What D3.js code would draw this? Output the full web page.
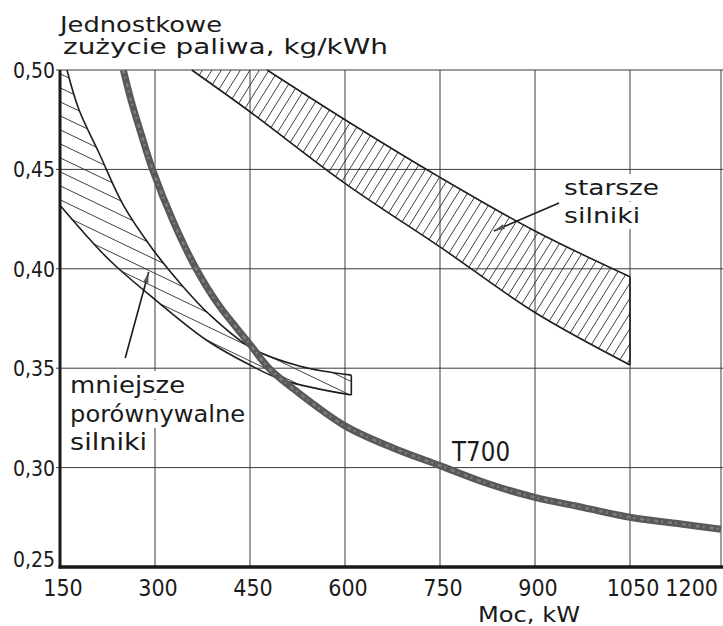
<!DOCTYPE html>
<html lang="pl">
<head>
<meta charset="UTF-8">
<title>Jednostkowe zużycie paliwa</title>
<script src="https://cdn.jsdelivr.net/npm/d3@7"></script>
<style>
  body { margin: 0; background: #fff; }
  svg { display: block; font-family: "DejaVu Sans", sans-serif; }
  .grid line { stroke: #3a3a3a; stroke-width: 1; }
  .hatch line { stroke: #2b2b2b; stroke-width: 0.9; }
  .edge { fill: none; stroke: #1e1e1e; stroke-width: 1.6; }
  .t700 { fill: none; stroke: #595959; stroke-width: 7; stroke-linecap: butt; }
  .t700tex { fill: none; stroke: #8c8c8c; stroke-width: 2.5; stroke-dasharray: 4 3 2 5; opacity: 0.7; }
  .axisline { stroke: #1a1a1a; }
  .tick { font-family: "DejaVu Sans Condensed", "DejaVu Sans", sans-serif; font-stretch: condensed; }
  text { fill: #1a1a1a; }
</style>
</head>
<body>
<svg width="723" height="626"></svg>
<script>
// moc, kW  /  jednostkowe zuzycie paliwa, kg/kWh
const xTicks = [150, 300, 450, 600, 750, 900, 1050, 1200];
const xTickLabels = ["150", "300", "450", "600", "750", "900", "1050", "1200"];
const yTicks = [0.25, 0.30, 0.35, 0.40, 0.45, 0.50];
const yTickLabels = ["0,25", "0,30", "0,35", "0,40", "0,45", "0,50"];

// silnik T700
const t700Power = [250, 262, 278, 296, 330, 365, 400, 450, 480, 525, 600, 675, 750, 825, 900, 975, 1050, 1125, 1200];
const t700Sfc = [0.500, 0.485, 0.468, 0.450, 0.423, 0.400, 0.382, 0.362, 0.350, 0.338, 0.321, 0.310, 0.301, 0.292, 0.285, 0.280, 0.275, 0.272, 0.269];

// mniejsze porownywalne silniki (pasmo)
const smallUpperPower = [161, 180, 212, 250, 296, 339, 386, 453, 529, 610];
const smallUpperSfc = [0.500, 0.480, 0.458, 0.432, 0.410, 0.393, 0.377, 0.360, 0.351, 0.3465];
const smallLowerPower = [150, 228, 301, 381, 450, 502, 610];
const smallLowerSfc = [0.432, 0.4044, 0.3843, 0.3642, 0.3516, 0.344, 0.3365];

// starsze silniki (pasmo)
const oldUpperPower = [477, 600, 750, 900, 1050];
const oldUpperSfc = [0.500, 0.475, 0.446, 0.419, 0.396];
const oldLowerPower = [358, 450, 600, 750, 900, 1050];
const oldLowerSfc = [0.500, 0.479, 0.443, 0.411, 0.378, 0.3516];

const svg = d3.select("svg");

// scan is hand drawn, last column is a bit narrower
const x = d3.scaleLinear().domain([150, 1050, 1200]).range([60, 630, 721]);
const y = d3.scaleLinear().domain([0.25, 0.50]).range([567, 70]);

const pts = (px, py) => px.map((p, i) => [p, py[i]]);
const t700 = pts(t700Power, t700Sfc);
const smallUp = pts(smallUpperPower, smallUpperSfc);
const smallLo = pts(smallLowerPower, smallLowerSfc);
const oldUp = pts(oldUpperPower, oldUpperSfc);
const oldLo = pts(oldLowerPower, oldLowerSfc);

const line = d3.line()
  .x(d => x(d[0]))
  .y(d => y(d[1]))
  .curve(d3.curveCatmullRom.alpha(0.5));

svg.append("rect").attr("width", 723).attr("height", 626).attr("fill", "#fff");

// grid
const grid = svg.append("g").attr("class", "grid");
grid.selectAll("line.v").data(xTicks.slice(1)).join("line")
  .attr("class", "v")
  .attr("x1", d => x(d)).attr("x2", d => x(d))
  .attr("y1", y(0.50)).attr("y2", y(0.25));
grid.selectAll("line.h").data(yTicks.slice(1)).join("line")
  .attr("class", "h")
  .attr("x1", x(150) - 4).attr("x2", 723)
  .attr("y1", d => y(d)).attr("y2", d => y(d));

// band outlines as closed shapes
const smallD = `M${x(150)},${y(0.50)}L` + line(smallUp).slice(1) +
  "L" + line(smallLo.slice().reverse()).slice(1) + "Z";
const oldD = line(oldUp) + "L" + line(oldLo.slice().reverse()).slice(1) + "Z";

const defs = svg.append("defs");
defs.append("clipPath").attr("id", "clipSmall").append("path").attr("d", smallD);
defs.append("clipPath").attr("id", "clipOld").append("path").attr("d", oldD);
defs.append("clipPath").attr("id", "clipPlot").append("rect")
  .attr("x", x(150)).attr("y", y(0.50)).attr("width", 723 - x(150)).attr("height", y(0.25) - y(0.50));

// hatching, small band: shallow "\\\"
const pTop = y(0.50), pBot = y(0.25), pLeft = x(150), pRight = 723;
const hs = svg.append("g").attr("class", "hatch").attr("clip-path", "url(#clipSmall)");
const slopeS = 0.48, stepS = 14;
for (let y0 = pTop - slopeS * (pRight - pLeft); y0 < pBot; y0 += stepS) {
  hs.append("line").attr("x1", pLeft).attr("y1", y0)
    .attr("x2", pRight).attr("y2", y0 + slopeS * (pRight - pLeft));
}
// hatching, older engines: steep "///"
const ho = svg.append("g").attr("class", "hatch").attr("clip-path", "url(#clipOld)");
const runO = (pBot - pTop) / Math.tan(58 * Math.PI / 180), stepO = 9.5;
for (let x0 = pLeft - runO; x0 < pRight; x0 += stepO) {
  ho.append("line").attr("x1", x0).attr("y1", pBot).attr("x2", x0 + runO).attr("y2", pTop);
}

// band edges
const lastOf = a => a[a.length - 1];
const edges = svg.append("g");
edges.append("path").attr("class", "edge").attr("d", line(smallUp));
edges.append("path").attr("class", "edge").attr("d", line(smallLo));
edges.append("path").attr("class", "edge")
  .attr("d", `M${x(lastOf(smallUp)[0])},${y(lastOf(smallUp)[1])}L${x(lastOf(smallLo)[0])},${y(lastOf(smallLo)[1])}`);
edges.append("path").attr("class", "edge").attr("d", line(oldUp));
edges.append("path").attr("class", "edge").attr("d", line(oldLo));
edges.append("path").attr("class", "edge")
  .attr("d", `M${x(lastOf(oldUp)[0])},${y(lastOf(oldUp)[1])}L${x(lastOf(oldLo)[0])},${y(lastOf(oldLo)[1])}`);

// T700 curve
const tg = svg.append("g").attr("clip-path", "url(#clipPlot)");
tg.append("path").attr("class", "t700").attr("d", line(t700));
tg.append("path").attr("class", "t700tex").attr("d", line(t700));

// text with white knockout behind it
function label(g, str, px, py, size, len, knock) {
  const t = g.append("text").attr("x", px).attr("y", py)
    .attr("font-size", size)
    .attr("textLength", len).attr("lengthAdjust", "spacingAndGlyphs")
    .text(str);
  if (knock) {
    const b = t.node().getBBox();
    g.insert("rect", () => t.node())
      .attr("x", b.x - 4).attr("y", b.y - 1)
      .attr("width", b.width + 8).attr("height", b.height + 2)
      .attr("fill", "#fff");
  }
  return t;
}

const ann = svg.append("g");
label(ann, "starsze", x(946), y(0.4371), 22, 95, true);
label(ann, "silniki", x(946), y(0.423), 22, 76, true);
label(ann, "mniejsze", x(166), y(0.3375), 23, 115, true);
label(ann, "porównywalne", x(166), y(0.3229), 23, 175, true);
label(ann, "silniki", x(166), y(0.3089), 23, 77, true);
label(ann, "T700", x(769), y(0.3033), 26, 58, false);

// leader lines with small arrow heads
function leader(from, to) {
  const x1 = x(from[0]), y1 = y(from[1]), x2 = x(to[0]), y2 = y(to[1]);
  ann.append("line").attr("x1", x1).attr("y1", y1).attr("x2", x2).attr("y2", y2)
    .attr("stroke", "#1a1a1a").attr("stroke-width", 1.6);
  const a = Math.atan2(y2 - y1, x2 - x1), L = 11, w = 2.6;
  const bx = x2 - L * Math.cos(a), by = y2 - L * Math.sin(a);
  ann.append("path")
    .attr("d", `M${x2},${y2}L${bx - w * Math.sin(a)},${by + w * Math.cos(a)}L${bx + w * Math.sin(a)},${by - w * Math.cos(a)}Z`)
    .attr("fill", "#555");
}
leader([938, 0.4331], [835, 0.419]);
leader([253, 0.3551], [290, 0.3984]);

// axes
const ax = svg.append("g");
ax.append("line").attr("class", "axisline")
  .attr("x1", x(150)).attr("x2", x(150)).attr("y1", y(0.50)).attr("y2", y(0.25) + 1.5)
  .attr("stroke-width", 3);
ax.append("line").attr("class", "axisline")
  .attr("x1", x(150) - 1.5).attr("x2", 723).attr("y1", y(0.25)).attr("y2", y(0.25))
  .attr("stroke-width", 3.5);

const xLab = svg.append("g");
xTicks.forEach((d, i) => {
  const last = i === xTicks.length - 1;
  xLab.append("text")
    .attr("class", "tick")
    .attr("x", last ? 718 : x(d) + 3).attr("y", 596)
    .attr("text-anchor", last ? "end" : "middle")
    .attr("font-size", 23)
    .text(xTickLabels[i]);
});

const yLab = svg.append("g");
yTicks.forEach((d, i) => {
  yLab.append("text")
    .attr("class", "tick")
    .attr("x", 55).attr("y", d === 0.25 ? y(d) : y(d) + 8)
    .attr("text-anchor", "end")
    .attr("font-size", 21)
    .text(yTickLabels[i]);
});

// titles
label(svg, "Jednostkowe", 60, 32, 21, 162, false);
label(svg, "zużycie  paliwa,  kg/kWh", 63, 54, 21, 325, false);
label(svg, "Moc, kW", 478, 622, 22, 102, false);
</script>
</body>
</html>
